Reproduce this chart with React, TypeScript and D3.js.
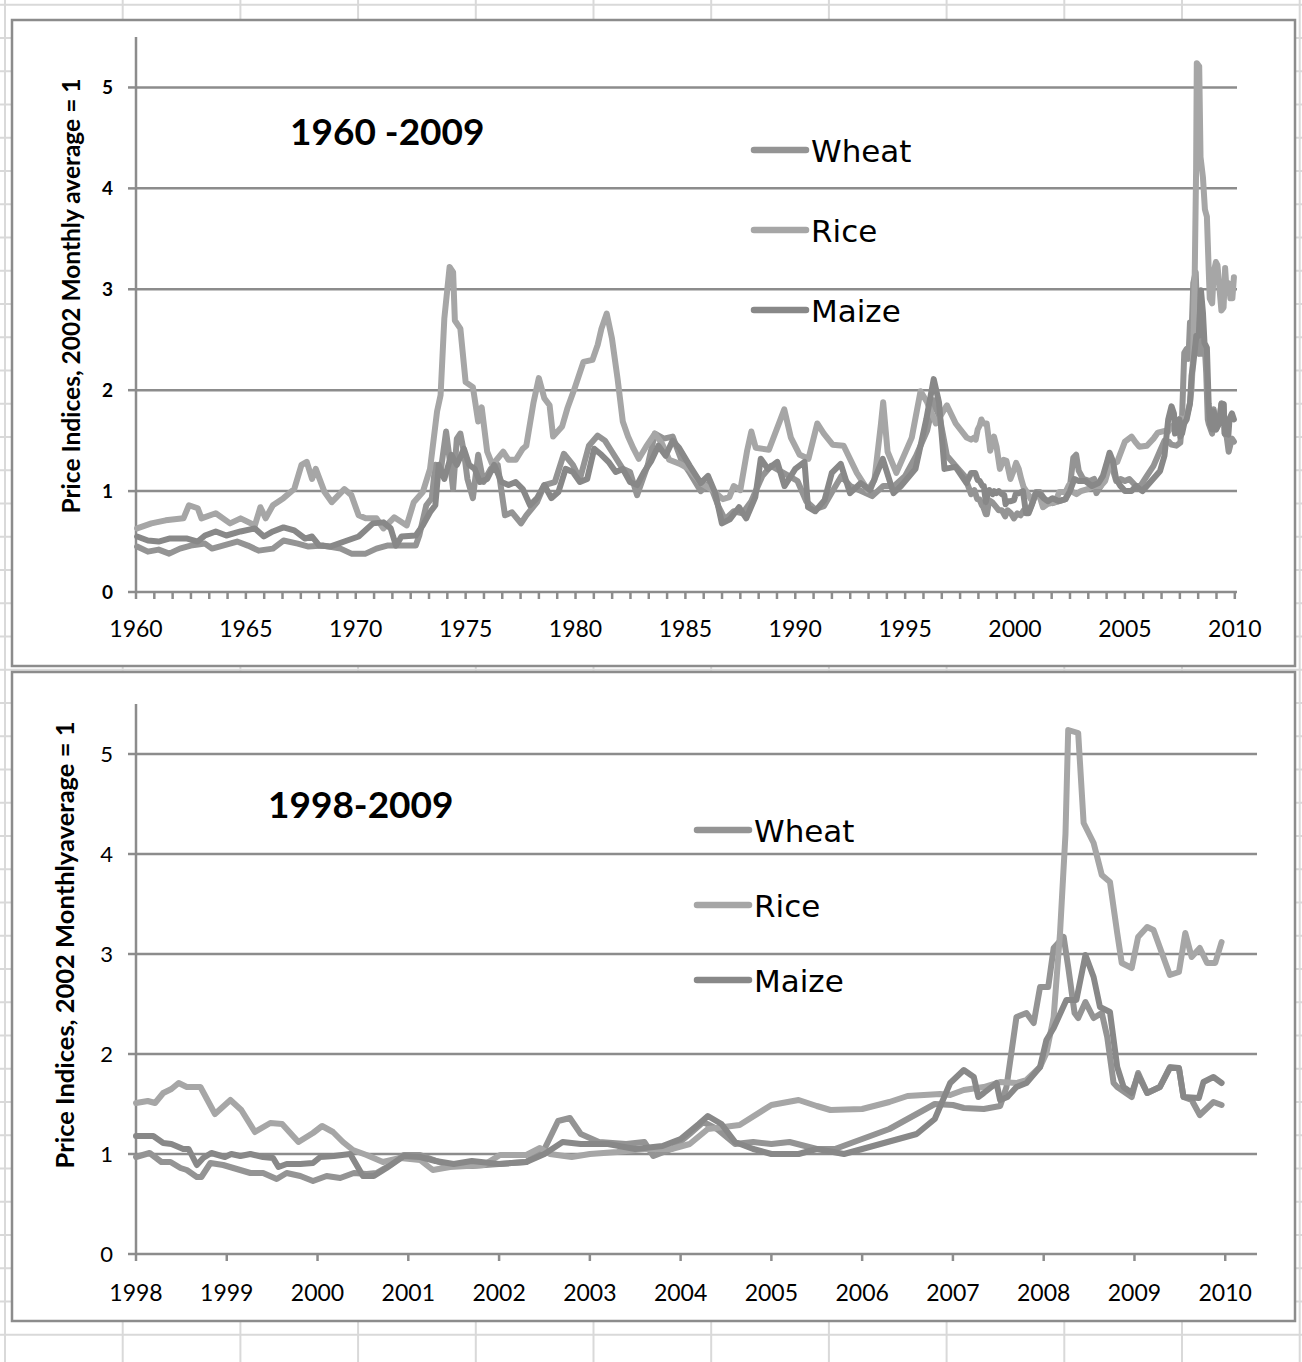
import React, { useEffect, useRef } from 'react';
import * as d3 from 'd3';

type Pt = [number, number];

// [year, index value]
const wheat: Pt[] = [
  [1960.05, 0.45], [1960.54, 0.4], [1961.03, 0.42], [1961.51, 0.38], [1962.0, 0.43], [1962.49, 0.46],
  [1963.14, 0.48], [1963.46, 0.43], [1963.95, 0.46], [1964.6, 0.5], [1965.09, 0.46], [1965.58, 0.41],
  [1966.23, 0.43], [1966.71, 0.51], [1967.36, 0.48], [1967.85, 0.45], [1968.5, 0.46], [1969.31, 0.43],
  [1969.8, 0.38], [1970.45, 0.38], [1970.94, 0.43], [1971.43, 0.46], [1971.91, 0.46], [1972.73, 0.46],
  [1972.89, 0.56], [1973.21, 0.86], [1973.46, 0.93], [1973.62, 1.26], [1973.86, 1.19], [1974.11, 1.59],
  [1974.27, 1.32], [1974.43, 1.02], [1974.6, 1.52], [1974.76, 1.57], [1974.92, 1.39], [1975.08, 1.12],
  [1975.33, 0.93], [1975.57, 1.36], [1975.81, 1.09], [1976.14, 1.22], [1976.46, 1.26], [1976.79, 0.76],
  [1977.11, 0.79], [1977.52, 0.68], [1977.76, 0.76], [1978.25, 0.89], [1978.58, 1.06], [1979.06, 1.09],
  [1979.47, 1.37], [1979.88, 1.26], [1980.2, 1.12], [1980.61, 1.45], [1981.01, 1.55], [1981.34, 1.5],
  [1981.66, 1.39], [1982.15, 1.22], [1982.48, 1.19], [1982.8, 0.96], [1983.29, 1.26], [1983.61, 1.57],
  [1984.02, 1.52], [1984.42, 1.54], [1984.83, 1.3], [1985.2, 1.18], [1985.7, 1.0], [1986.1, 1.08],
  [1986.5, 0.85], [1986.8, 0.72], [1987.2, 0.8], [1987.6, 0.78], [1988.0, 0.9], [1988.5, 1.15],
  [1988.9, 1.25], [1989.3, 1.2], [1989.7, 1.15], [1990.1, 1.1], [1990.5, 0.9], [1990.9, 0.82],
  [1991.3, 0.85], [1991.7, 1.0], [1992.1, 1.15], [1992.5, 1.05], [1993.0, 1.0], [1993.5, 0.95],
  [1994.0, 1.05], [1994.5, 1.05], [1995.0, 1.15], [1995.5, 1.35], [1996.0, 1.6], [1996.3, 1.9],
  [1996.6, 1.7], [1996.9, 1.35], [1997.3, 1.25], [1997.7, 1.15],
  [1998.0, 0.97], [1998.15, 1.01], [1998.28, 0.92], [1998.38, 0.92], [1998.49, 0.86], [1998.56, 0.84],
  [1998.67, 0.77], [1998.72, 0.77], [1998.82, 0.91], [1998.96, 0.89], [1999.11, 0.85], [1999.26, 0.81],
  [1999.4, 0.81], [1999.55, 0.75], [1999.66, 0.81], [1999.81, 0.78], [1999.95, 0.73], [2000.1, 0.78],
  [2000.25, 0.76], [2000.4, 0.81], [2000.54, 0.8], [2000.65, 0.81], [2000.8, 0.89], [2000.95, 0.99],
  [2001.13, 0.99], [2001.4, 0.9], [2001.7, 0.88], [2002.0, 0.9], [2002.3, 0.92], [2002.5, 1.05],
  [2002.65, 1.33], [2002.78, 1.36], [2002.9, 1.2], [2003.1, 1.12], [2003.4, 1.1], [2003.6, 1.12],
  [2003.7, 0.98], [2003.9, 1.05], [2004.1, 1.2], [2004.25, 1.32], [2004.4, 1.25], [2004.6, 1.1],
  [2004.8, 1.12], [2005.0, 1.1], [2005.2, 1.12], [2005.5, 1.05], [2005.7, 1.05], [2006.0, 1.15],
  [2006.3, 1.25], [2006.6, 1.4], [2006.8, 1.5], [2007.0, 1.49], [2007.12, 1.46], [2007.34, 1.45],
  [2007.52, 1.48], [2007.59, 1.67], [2007.7, 2.37], [2007.81, 2.41], [2007.89, 2.31], [2007.96, 2.67],
  [2008.05, 2.67], [2008.11, 3.06], [2008.22, 3.17], [2008.27, 2.87], [2008.34, 2.41], [2008.38, 2.36],
  [2008.46, 2.52], [2008.55, 2.36], [2008.64, 2.41], [2008.7, 2.17], [2008.77, 1.71], [2008.81, 1.67],
  [2008.97, 1.57], [2009.04, 1.81], [2009.14, 1.61], [2009.28, 1.67], [2009.39, 1.87], [2009.49, 1.86],
  [2009.54, 1.57], [2009.63, 1.54], [2009.72, 1.39], [2009.87, 1.52], [2009.96, 1.49],
];

const rice: Pt[] = [
  [1960.05, 0.63], [1960.7, 0.68], [1961.35, 0.71], [1962.16, 0.73], [1962.41, 0.86], [1962.81, 0.83],
  [1962.98, 0.73], [1963.63, 0.78], [1964.28, 0.68], [1964.76, 0.73], [1965.41, 0.66], [1965.66, 0.84],
  [1965.9, 0.73], [1966.23, 0.86], [1966.71, 0.93], [1967.2, 1.02], [1967.53, 1.26], [1967.77, 1.29],
  [1968.01, 1.12], [1968.18, 1.22], [1968.58, 0.99], [1968.91, 0.89], [1969.48, 1.02], [1969.8, 0.96],
  [1970.13, 0.76], [1970.45, 0.73], [1970.94, 0.73], [1971.26, 0.63], [1971.75, 0.74], [1972.32, 0.66],
  [1972.64, 0.89], [1973.05, 0.99], [1973.38, 1.22], [1973.7, 1.79], [1973.86, 1.95], [1974.03, 2.71],
  [1974.27, 3.22], [1974.43, 3.17], [1974.51, 2.69], [1974.76, 2.61], [1975.0, 2.08], [1975.33, 2.03],
  [1975.57, 1.69], [1975.73, 1.83], [1975.98, 1.39], [1976.22, 1.26], [1976.71, 1.39], [1976.95, 1.31],
  [1977.28, 1.31], [1977.6, 1.42], [1977.76, 1.45], [1978.09, 1.88], [1978.33, 2.12], [1978.58, 1.92],
  [1978.82, 1.85], [1978.98, 1.54], [1979.39, 1.64], [1979.63, 1.82], [1979.96, 2.02], [1980.36, 2.28],
  [1980.77, 2.3], [1981.01, 2.45], [1981.18, 2.61], [1981.42, 2.76], [1981.66, 2.51], [1981.91, 2.12],
  [1982.15, 1.69], [1982.39, 1.54], [1982.64, 1.42], [1982.88, 1.32], [1983.21, 1.44], [1983.61, 1.57],
  [1983.94, 1.47], [1984.26, 1.31], [1984.75, 1.27], [1985.16, 1.22], [1985.7, 1.08], [1986.3, 1.0],
  [1986.7, 0.92], [1987.0, 0.94], [1987.2, 1.05], [1987.5, 1.01], [1987.8, 1.39], [1988.0, 1.59],
  [1988.2, 1.43], [1988.8, 1.41], [1989.5, 1.81], [1989.8, 1.53], [1990.2, 1.36], [1990.6, 1.32],
  [1991.0, 1.67], [1991.3, 1.57], [1991.7, 1.46], [1992.2, 1.45], [1992.8, 1.18], [1993.3, 1.01],
  [1993.6, 1.11], [1993.9, 1.67], [1994.0, 1.88], [1994.2, 1.39], [1994.6, 1.18], [1995.3, 1.53],
  [1995.7, 1.99], [1996.0, 1.88], [1996.4, 1.67], [1996.9, 1.85], [1997.3, 1.67], [1997.8, 1.53],
  [1998.0, 1.51], [1998.13, 1.53], [1998.21, 1.51], [1998.3, 1.61], [1998.39, 1.65], [1998.47, 1.71],
  [1998.56, 1.67], [1998.71, 1.67], [1998.87, 1.4], [1999.04, 1.54], [1999.16, 1.44], [1999.31, 1.22],
  [1999.48, 1.31], [1999.61, 1.3], [1999.79, 1.12], [1999.95, 1.21], [2000.05, 1.28], [2000.17, 1.22],
  [2000.28, 1.12], [2000.39, 1.04], [2000.54, 0.99], [2000.72, 0.92], [2000.91, 0.96], [2001.13, 0.94],
  [2001.27, 0.84], [2001.46, 0.87], [2001.64, 0.88], [2001.83, 0.89], [2002.01, 0.99], [2002.3, 0.99],
  [2002.45, 1.06], [2002.56, 1.0], [2002.8, 0.97], [2003.0, 1.0], [2003.3, 1.02], [2003.6, 1.05],
  [2003.9, 1.05], [2004.1, 1.1], [2004.3, 1.25], [2004.65, 1.29], [2005.0, 1.49], [2005.3, 1.54],
  [2005.5, 1.48], [2005.65, 1.44], [2006.0, 1.45], [2006.3, 1.52], [2006.5, 1.58], [2006.86, 1.6],
  [2006.97, 1.59], [2007.12, 1.64], [2007.34, 1.67], [2007.52, 1.72], [2007.7, 1.71], [2007.81, 1.74],
  [2007.96, 1.87], [2008.03, 2.01], [2008.11, 2.37], [2008.18, 3.21], [2008.24, 4.2], [2008.27, 5.24],
  [2008.38, 5.21], [2008.44, 4.31], [2008.55, 4.11], [2008.64, 3.79], [2008.73, 3.72], [2008.81, 3.21],
  [2008.86, 2.91], [2008.97, 2.86], [2009.04, 3.17], [2009.14, 3.27], [2009.21, 3.24], [2009.39, 2.79],
  [2009.49, 2.82], [2009.56, 3.21], [2009.63, 2.97], [2009.72, 3.06], [2009.8, 2.91], [2009.89, 2.91],
  [2009.96, 3.12],
];

const maize: Pt[] = [
  [1960.05, 0.55], [1960.54, 0.51], [1961.03, 0.5], [1961.51, 0.53], [1962.33, 0.53], [1962.81, 0.5],
  [1963.14, 0.56], [1963.63, 0.6], [1964.11, 0.56], [1964.76, 0.6], [1965.41, 0.63], [1965.82, 0.55],
  [1966.23, 0.6], [1966.71, 0.64], [1967.2, 0.61], [1967.69, 0.53], [1968.01, 0.55], [1968.34, 0.46],
  [1968.83, 0.45], [1969.48, 0.5], [1970.13, 0.55], [1970.78, 0.68], [1971.26, 0.69], [1971.59, 0.63],
  [1971.83, 0.46], [1972.08, 0.55], [1972.73, 0.56], [1973.05, 0.66], [1973.38, 0.79], [1973.62, 0.86],
  [1973.78, 1.26], [1974.03, 1.12], [1974.35, 1.36], [1974.6, 1.26], [1974.92, 1.42], [1975.16, 1.26],
  [1975.41, 1.22], [1975.65, 1.09], [1975.98, 1.12], [1976.3, 1.26], [1976.63, 1.09], [1976.95, 1.06],
  [1977.28, 1.09], [1977.6, 1.02], [1977.93, 0.86], [1978.25, 0.93], [1978.58, 1.06], [1978.9, 0.93],
  [1979.22, 0.99], [1979.55, 1.22], [1979.88, 1.19], [1980.2, 1.09], [1980.53, 1.12], [1980.85, 1.42],
  [1981.18, 1.36], [1981.5, 1.29], [1981.83, 1.19], [1982.15, 1.22], [1982.48, 1.09], [1982.8, 1.06],
  [1983.12, 1.19], [1983.45, 1.3], [1983.77, 1.45], [1984.1, 1.35], [1984.42, 1.5], [1984.71, 1.43],
  [1985.2, 1.25], [1985.7, 1.08], [1986.03, 1.15], [1986.36, 0.98], [1986.66, 0.68], [1987.02, 0.72],
  [1987.44, 0.84], [1987.77, 0.73], [1988.18, 0.94], [1988.43, 1.32], [1988.76, 1.22], [1989.18, 1.29],
  [1989.51, 1.05], [1990.0, 1.22], [1990.42, 1.29], [1990.58, 0.84], [1990.91, 0.8], [1991.33, 0.91],
  [1991.66, 1.18], [1992.07, 1.27], [1992.49, 0.98], [1992.98, 1.08], [1993.4, 1.01], [1993.98, 1.32],
  [1994.47, 0.98], [1994.81, 1.05], [1995.47, 1.22], [1995.96, 1.71], [1996.3, 2.11], [1996.54, 1.88],
  [1996.79, 1.22], [1997.29, 1.24], [1997.79, 1.08],
  [1998.0, 1.18], [1998.19, 1.18], [1998.3, 1.11], [1998.39, 1.1], [1998.52, 1.05], [1998.58, 1.05],
  [1998.67, 0.89], [1998.74, 0.96], [1998.83, 1.01], [1998.98, 0.97], [1999.05, 1.0], [1999.15, 0.98],
  [1999.26, 1.0], [1999.4, 0.97], [1999.51, 0.96], [1999.57, 0.87], [1999.66, 0.9], [1999.81, 0.9],
  [1999.95, 0.91], [2000.03, 0.97], [2000.18, 0.98], [2000.36, 1.0], [2000.5, 0.78], [2000.62, 0.78],
  [2000.76, 0.86], [2000.95, 0.98], [2001.13, 0.97], [2001.3, 0.93], [2001.5, 0.9], [2001.7, 0.93],
  [2002.0, 0.9], [2002.3, 0.92], [2002.5, 1.0], [2002.7, 1.12], [2002.9, 1.1], [2003.2, 1.1],
  [2003.5, 1.05], [2003.8, 1.08], [2004.0, 1.15], [2004.2, 1.3], [2004.3, 1.38], [2004.45, 1.3],
  [2004.6, 1.12], [2004.8, 1.05], [2005.0, 1.0], [2005.3, 1.0], [2005.5, 1.05], [2005.8, 1.0],
  [2006.0, 1.05], [2006.2, 1.1], [2006.4, 1.15], [2006.6, 1.2], [2006.8, 1.35], [2006.97, 1.71],
  [2007.12, 1.84], [2007.23, 1.77], [2007.28, 1.57], [2007.34, 1.61], [2007.48, 1.71], [2007.52, 1.54],
  [2007.6, 1.57], [2007.7, 1.67], [2007.81, 1.71], [2007.96, 1.87], [2008.03, 2.14], [2008.11, 2.26],
  [2008.25, 2.54], [2008.36, 2.54], [2008.46, 2.99], [2008.55, 2.77], [2008.62, 2.47], [2008.73, 2.42],
  [2008.81, 1.87], [2008.88, 1.67], [2008.97, 1.61], [2009.04, 1.79], [2009.14, 1.61], [2009.28, 1.67],
  [2009.39, 1.86], [2009.49, 1.86], [2009.54, 1.57], [2009.71, 1.56], [2009.76, 1.72], [2009.87, 1.77],
  [2009.96, 1.71],
];

const seriesNames = ['Wheat', 'Rice', 'Maize'];
const seriesColors = ['#949494', '#a6a6a6', '#888888'];
const topYears = [1960, 1965, 1970, 1975, 1980, 1985, 1990, 1995, 2000, 2005, 2010];
const bottomYears = [1998, 1999, 2000, 2001, 2002, 2003, 2004, 2005, 2006, 2007, 2008, 2009, 2010];
const yTicks = [0, 1, 2, 3, 4, 5];

const W = 1302;
const H = 1362;
const FONT = "Lato, 'Carlito', Calibri, sans-serif";

interface PanelCfg {
  top: number;
  frameH: number;
  title: string;
  yTitle: string;
  xDomain: [number, number];
  xRange: [number, number];
  yRange: [number, number];
  xLabels: number[];
  minorStep: number;
  boldY: boolean;
  yTitleX: number;
  yTitleY: number;
  yTitleSize: number;
  titleX: number;
  titleY: number;
  legendX: number;
  legendY: number[];
  labelY: number;
  fromYear: number;
}

const panels: PanelCfg[] = [
  {
    top: 20, frameH: 646, title: '1960 -2009', yTitle: 'Price Indices, 2002 Monthly average = 1',
    xDomain: [1960, 2010.1], xRange: [136, 1237], yRange: [592, 37], xLabels: topYears,
    minorStep: 10 / 12, boldY: true, yTitleX: 80, yTitleY: 296, yTitleSize: 24.5, titleX: 290, titleY: 145,
    legendX: 754, legendY: [150, 230, 310], labelY: 637, fromYear: 1960,
  },
  {
    top: 672, frameH: 649, title: '1998-2009', yTitle: 'Price Indices, 2002 Monthlyaverage = 1',
    xDomain: [1998, 2010.35], xRange: [136, 1257], yRange: [1254, 704], xLabels: bottomYears,
    minorStep: 1, boldY: false, yTitleX: 74, yTitleY: 945, yTitleSize: 25.5, titleX: 268, titleY: 818,
    legendX: 697, legendY: [830, 905, 980], labelY: 1301, fromYear: 1998,
  },
];

export default function App() {
  const ref = useRef<SVGSVGElement>(null);

  useEffect(() => {
    if (!ref.current) return;
    const svg = d3.select(ref.current);
    svg.selectAll('*').remove();

    svg.append('rect').attr('width', W).attr('height', H).attr('fill', '#fff');

    // spreadsheet cell grid behind the charts
    const bg = svg.append('g').attr('stroke', '#d9d9d9').attr('stroke-width', 2);
    d3.range(0, 12).forEach((k) => {
      const x = 5 + k * 117.7;
      bg.append('line').attr('x1', x).attr('x2', x).attr('y1', 0).attr('y2', H);
    });
    d3.range(0, 42).forEach((k) => {
      const y = 4.75 + k * 33.25;
      bg.append('line').attr('x1', 0).attr('x2', W).attr('y1', y).attr('y2', y);
    });

    const all = [wheat, rice, maize];

    panels.forEach((p) => {
      const g = svg.append('g');
      g.append('rect')
        .attr('x', 12).attr('y', p.top).attr('width', 1283).attr('height', p.frameH)
        .attr('fill', '#fff').attr('stroke', '#8c8c8c').attr('stroke-width', 2.5);

      const x = d3.scaleLinear().domain(p.xDomain).range(p.xRange);
      const y = d3.scaleLinear().domain([0, 5.5]).range(p.yRange);
      const [x0, x1] = p.xRange;

      // gridlines
      yTicks.filter((t) => t > 0).forEach((t) => {
        g.append('line').attr('x1', x0).attr('x2', x1).attr('y1', y(t)).attr('y2', y(t))
          .attr('stroke', '#8c8c8c').attr('stroke-width', 2.5);
      });

      // y axis
      g.append('line').attr('x1', x0).attr('x2', x0).attr('y1', p.yRange[1]).attr('y2', p.yRange[0] + 1)
        .attr('stroke', '#8c8c8c').attr('stroke-width', 2.5);
      yTicks.forEach((t) => {
        g.append('line').attr('x1', x0 - 8).attr('x2', x0).attr('y1', y(t)).attr('y2', y(t))
          .attr('stroke', '#8c8c8c').attr('stroke-width', 2.5);
        g.append('text').attr('x', 113).attr('y', y(t)).attr('dy', '0.36em')
          .attr('text-anchor', 'end').attr('font-family', FONT)
          .attr('font-size', p.boldY ? 19 : 22).attr('font-weight', p.boldY ? 700 : 400)
          .attr('fill', '#000').text(t);
      });

      // x axis
      g.append('line').attr('x1', x0).attr('x2', x1).attr('y1', y(0)).attr('y2', y(0))
        .attr('stroke', '#8c8c8c').attr('stroke-width', 2.5);
      const ticks = d3.range(p.xDomain[0], 2010.01, p.minorStep);
      ticks.forEach((t) => {
        g.append('line').attr('x1', x(t)).attr('x2', x(t)).attr('y1', y(0)).attr('y2', y(0) + 7)
          .attr('stroke', '#8c8c8c').attr('stroke-width', 2.5);
      });
      p.xLabels.forEach((yr) => {
        g.append('text').attr('x', x(yr)).attr('y', p.labelY).attr('text-anchor', 'middle')
          .attr('font-family', FONT).attr('font-size', 23).attr('fill', '#000').text(yr);
      });

      // y title
      g.append('text')
        .attr('transform', `translate(${p.yTitleX},${p.yTitleY}) rotate(-90)`)
        .attr('text-anchor', 'middle').attr('font-family', FONT).attr('font-size', p.yTitleSize)
        .attr('font-weight', 700).attr('fill', '#000').text(p.yTitle);

      // chart title
      g.append('text').attr('x', p.titleX).attr('y', p.titleY).attr('font-family', FONT)
        .attr('font-size', 37).attr('font-weight', 700).attr('fill', '#000').text(p.title);

      // series
      const line = d3.line<Pt>().x((d) => x(d[0])).y((d) => y(d[1]));
      all.forEach((s, i) => {
        g.append('path').datum(s.filter((d) => d[0] >= p.fromYear))
          .attr('fill', 'none').attr('stroke', seriesColors[i]).attr('stroke-width', 6)
          .attr('stroke-linejoin', 'round').attr('stroke-linecap', 'round').attr('d', line);
      });

      // legend
      seriesNames.forEach((name, i) => {
        const ly = p.legendY[i];
        g.append('line').attr('x1', p.legendX).attr('x2', p.legendX + 52).attr('y1', ly).attr('y2', ly)
          .attr('stroke', seriesColors[i]).attr('stroke-width', 6.5).attr('stroke-linecap', 'round');
        g.append('text').attr('x', p.legendX + 57).attr('y', ly + 11.5)
          .attr('font-family', "'DejaVu Sans', sans-serif").attr('font-size', 31)
          .attr('fill', '#000').text(name);
      });
    });
  }, []);

  return (
    <svg
      ref={ref}
      width={W}
      height={H}
      style={{ position: 'absolute', left: 0, top: 0 }}
    />
  );
}
